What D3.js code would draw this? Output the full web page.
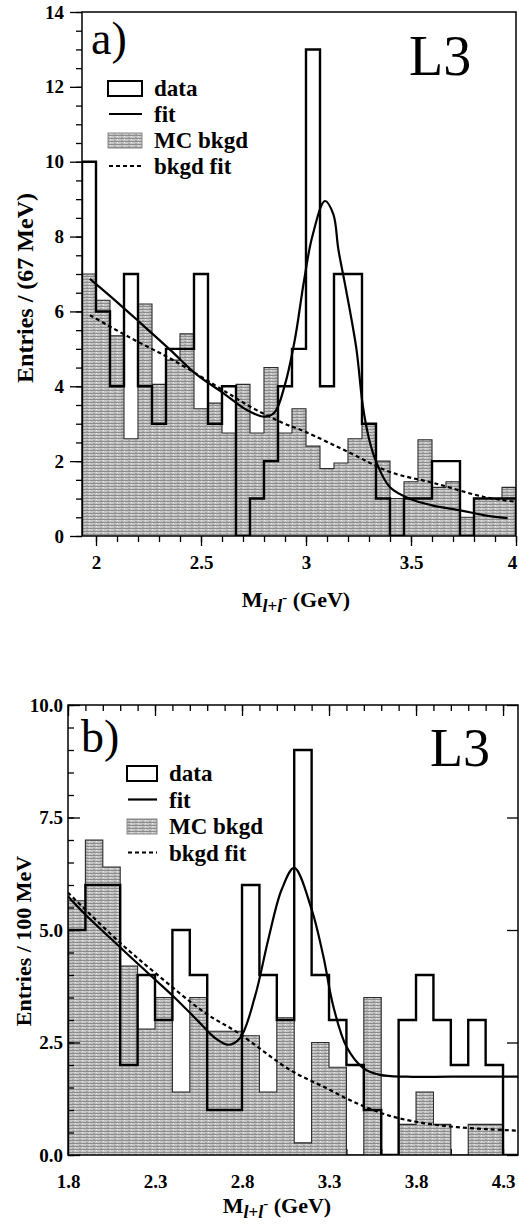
<!DOCTYPE html>
<html lang="en">
<head>
<meta charset="UTF-8">
<title>L3 dilepton mass</title>
<script src="https://d3js.org/d3.v7.min.js"></script>
<style>
  body { margin: 0; background: #fff; }
  svg { display: block; font-family: "Liberation Serif", "Times New Roman", serif; }
  .tick text { font-weight: bold; font-size: 19px; font-family: "Liberation Serif", serif; }
</style>
</head>
<body>
<svg width="519" height="1224"></svg>
<script>
// ---- panel a) : 67 MeV bins from 1.933 GeV
var aLow = 1.9333, aWidth = 1 / 15;
var aData = [10, 6, 4, 7, 4, 3, 5, 5, 7, 3, 4, 0, 1, 2, 4, 5, 13, 4, 7, 7, 3, 1, 0, 1, 1, 2, 2, 0, 1, 1, 1];
var aMC = [7.0, 6.3, 5.35, 2.6, 6.2, 4.05, 4.7, 5.4, 3.4, 3.55, 2.75, 4.05, 2.75, 4.5, 2.75, 3.4,
           2.4, 1.8, 1.95, 2.6, 3.0, 2.0, 1.0, 1.45, 2.57, 1.3, 1.45, 0.5, 1.0, 1.0, 1.3];
var aFit = [[1.971, 6.87], [2.1, 6.25], [2.21, 5.7], [2.352, 4.98], [2.48, 4.31], [2.606, 3.82],
            [2.717, 3.37], [2.80, 3.19], [2.85, 3.3], [2.90, 4.05], [2.947, 5.25], [2.99, 6.8],
            [3.03, 8.0], [3.09, 8.95], [3.13, 8.6], [3.154, 7.66], [3.19, 6.6], [3.24, 5.0],
            [3.27, 3.5], [3.30, 2.6], [3.333, 2.0], [3.40, 1.3], [3.5, 0.98], [3.6, 0.82],
            [3.74, 0.68], [3.844, 0.56], [3.96, 0.48]];
var aBkgFit = [[1.971, 5.9], [2.162, 5.3], [2.367, 4.7], [2.624, 3.83], [2.733, 3.46], [2.89, 3.02],
               [2.995, 2.79], [3.21, 2.22], [3.40, 1.71], [3.605, 1.42], [3.843, 1.05], [3.99, 0.92]];
var aXTicks = [2, 2.5, 3, 3.5, 4];
var aYTicks = [0, 2, 4, 6, 8, 10, 12, 14];

// ---- panel b) : 100 MeV bins from 1.8 GeV
var bLow = 1.8, bWidth = 0.1;
var bData = [5, 6, 6, 2, 4, 3, 5, 4, 1, 1, 6, 4, 3, 9, 4, 3, 2, 1, 0, 3, 4, 3, 2, 3, 2, 0];
var bMC = [5.65, 7.0, 6.4, 4.2, 2.8, 3.5, 1.4, 3.5, 2.75, 2.75, 2.65, 1.4, 3.05, 0.27, 2.5, 1.95,
           0, 3.5, 0, 0.68, 1.4, 0.68, 0, 0.68, 0.68, 0];
var bFit = [[1.80, 5.75], [1.898, 5.35], [2.09, 4.65], [2.3, 3.9], [2.415, 3.49], [2.549, 2.97],
            [2.645, 2.6], [2.721, 2.45], [2.789, 2.6], [2.875, 3.53], [2.951, 4.79], [3.028, 5.9],
            [3.10, 6.38], [3.20, 5.46], [3.267, 4.42], [3.325, 3.3], [3.40, 2.41], [3.497, 1.93],
            [3.593, 1.78], [3.746, 1.74], [4.0, 1.74], [4.39, 1.74]];
var bBkgFit = [[1.80, 5.83], [2.09, 4.75], [2.3, 4.05], [2.587, 3.16], [2.779, 2.71], [3.076, 1.89],
               [3.267, 1.52], [3.459, 1.15], [3.65, 0.87], [3.842, 0.71], [4.034, 0.62], [4.225, 0.57],
               [4.39, 0.54]];
var bXTicks = [1.8, 2.3, 2.8, 3.3, 3.8, 4.3];
var bYTicks = [0, 2.5, 5, 7.5, 10];

var legendKeys = ["data", "fit", "MC bkgd", "bkgd fit"];

var svg = d3.select("svg");
var defs = svg.append("defs");

// grainy grey fill for the MC histogram
var pat = defs.append("pattern").attr("id", "mcTex")
    .attr("patternUnits", "userSpaceOnUse").attr("width", 7).attr("height", 3);
pat.append("rect").attr("width", 7).attr("height", 3).attr("fill", "#c6c6c6");
pat.append("rect").attr("width", 7).attr("height", 1).attr("fill", "#8c8c8c");
pat.append("rect").attr("x", 2).attr("y", 2).attr("width", 2).attr("height", 1).attr("fill", "#a4a4a4");
pat.append("rect").attr("x", 5).attr("y", 1).attr("width", 1).attr("height", 1).attr("fill", "#ececec");

function drawPanel(p) {
    var x = d3.scaleLinear().domain(p.xDomain).range([p.left, p.right]);
    var y = d3.scaleLinear().domain(p.yDomain).range([p.bottom, p.top]);
    var g = svg.append("g");

    defs.append("clipPath").attr("id", p.id + "clip")
      .append("rect")
        .attr("x", p.left).attr("y", p.top)
        .attr("width", p.right - p.left).attr("height", p.bottom - p.top);

    var n = p.data.length;
    var edges = d3.range(n + 1).map(function(i) { return p.low + i * p.width; });

    function steps(vals) {
        var pts = [[edges[0], 0]];
        vals.forEach(function(v, i) { pts.push([edges[i], v]); });
        pts.push([edges[n], vals[n - 1]]);
        pts.push([edges[n], 0]);
        return pts;
    }

    // inward ticks on the bottom edge lie under the fill
    if (p.inward) {
        g.append("g").attr("transform", "translate(0," + p.bottom + ")")
            .call(d3.axisTop(x).tickValues(d3.range(p.xDomain[0], p.xDomain[1], 0.1)).tickSize(6).tickFormat(""))
            .call(function(s) { s.select(".domain").remove(); });
    }

    var plot = g.append("g").attr("clip-path", "url(#" + p.id + "clip)");

    var area = d3.area()
        .x(function(d) { return x(d[0]); })
        .y0(y(0))
        .y1(function(d) { return y(d[1]); })
        .curve(d3.curveStepAfter);
    var step = d3.line()
        .x(function(d) { return x(d[0]); })
        .y(function(d) { return y(d[1]); })
        .curve(d3.curveStepAfter);
    var smooth = d3.line()
        .x(function(d) { return x(d[0]); })
        .y(function(d) { return y(d[1]); })
        .curve(d3.curveCatmullRom.alpha(0.5));

    plot.append("path").attr("d", area(steps(p.mc))).attr("fill", "url(#mcTex)");
    plot.append("path").attr("d", step(steps(p.mc)))
        .attr("fill", "none").attr("stroke", "#2a2a2a").attr("stroke-width", 1.1);
    plot.append("path").attr("d", step(steps(p.data)))
        .attr("fill", "none").attr("stroke", "#000").attr("stroke-width", 2.4);
    plot.append("path").attr("d", smooth(p.bkg))
        .attr("fill", "none").attr("stroke", "#000").attr("stroke-width", 2.2)
        .attr("stroke-dasharray", "4,3");
    plot.append("path").attr("d", smooth(p.fit))
        .attr("fill", "none").attr("stroke", "#000").attr("stroke-width", 2.2);

    // frame
    g.append("rect")
        .attr("x", p.left).attr("y", p.top)
        .attr("width", p.right - p.left).attr("height", p.bottom - p.top)
        .attr("fill", "none").attr("stroke", "#000").attr("stroke-width", 1.5);

    var yMinor = d3.range(p.yDomain[0], p.yDomain[1] + 0.001, 0.5);
    var xMinor = d3.range(Math.ceil(p.xDomain[0] * 10) / 10, p.xDomain[1] + 0.001, 0.1);
    var sgn = p.inward ? -1 : 1;

    g.append("g").attr("transform", "translate(" + p.left + ",0)")
        .call(d3.axisLeft(y).tickValues(yMinor).tickSize(sgn * 6).tickFormat(""))
        .call(function(s) { s.select(".domain").remove(); });
    g.append("g").attr("transform", "translate(" + p.left + ",0)")
        .call(d3.axisLeft(y).tickValues(p.yTicks).tickSize(sgn * 12).tickPadding(p.inward ? 5 : 6)
            .tickFormat(p.yFormat))
        .call(function(s) { s.select(".domain").remove(); });

    var xAxisPos = p.inward ? p.top : p.bottom;
    g.append("g").attr("transform", "translate(0," + xAxisPos + ")")
        .call(d3.axisBottom(x).tickValues(xMinor).tickSize(6).tickFormat(""))
        .call(function(s) { s.select(".domain").remove(); });
    g.append("g").attr("transform", "translate(0," + xAxisPos + ")")
        .call(d3.axisBottom(x).tickValues(p.xTicks).tickSize(p.inward ? 11 : 10).tickFormat(""))
        .call(function(s) { s.select(".domain").remove(); });
    // x tick labels below the bottom edge
    var xl = g.append("g").attr("transform", "translate(0," + p.bottom + ")")
        .call(d3.axisBottom(x).tickValues(p.xTicks).tickSize(0).tickPadding(p.xPad).tickFormat(p.xFormat))
        .call(function(s) { s.select(".domain").remove(); });
    // keep the last label inside the page
    xl.selectAll(".tick text").filter(function(d) { return x(d) > 510; }).attr("dx", -4);

    if (p.inward) {
        g.append("g").attr("transform", "translate(" + p.right + ",0)")
            .call(d3.axisLeft(y).tickValues(p.yTicks).tickSize(11).tickFormat(""))
            .call(function(s) { s.select(".domain").remove(); });
    }
    g.selectAll(".tick line").attr("stroke", "#000").attr("stroke-width", 1.3);

    // panel letter and experiment name
    g.append("text").attr("x", p.letterX).attr("y", p.letterY)
        .attr("font-size", p.letterSize).text(p.letter);
    g.append("text").attr("x", p.l3X).attr("y", p.l3Y)
        .attr("font-size", p.l3Size).text("L3");

    // y title
    g.append("text")
        .attr("transform", "translate(" + p.yTitleX + "," + p.yTitleY + ") rotate(-90)")
        .attr("text-anchor", "middle").attr("font-weight", "bold")
        .attr("font-size", p.yTitleSize).text(p.yTitle);

    // x title  M_{l+l-} (GeV)
    var xt = g.append("text").attr("x", p.xTitleX).attr("y", p.xTitleY)
        .attr("text-anchor", "middle").attr("font-weight", "bold").attr("font-size", 22);
    xt.append("tspan").text("M");
    xt.append("tspan").attr("dy", 5).attr("font-size", 18).attr("font-style", "italic").text("l");
    xt.append("tspan").attr("font-size", 17).text("+");
    xt.append("tspan").attr("font-size", 18).attr("font-style", "italic").text("l");
    xt.append("tspan").attr("dy", -10).attr("font-size", 15).text("-");
    xt.append("tspan").attr("dy", 5).text(" (GeV)");

    // legend
    var lg = g.append("g").attr("font-weight", "bold").attr("font-size", 23);
    legendKeys.forEach(function(k, i) {
        var cy = p.legY + i * p.legStep;
        if (i === 0 || i === 2) {
            lg.append("rect").attr("x", p.legX).attr("y", cy - 7)
                .attr("width", p.legW).attr("height", 15)
                .attr("fill", i === 0 ? "#fff" : "url(#mcTex)")
                .attr("stroke", i === 0 ? "#000" : "#888").attr("stroke-width", i === 0 ? 2 : 1);
        } else {
            lg.append("line").attr("x1", p.legX + 1).attr("x2", p.legX + p.legW)
                .attr("y1", cy).attr("y2", cy)
                .attr("stroke", "#000").attr("stroke-width", 2.2)
                .attr("stroke-dasharray", i === 3 ? "4,3" : null);
        }
        lg.append("text").attr("x", p.legX + p.legW + 12).attr("y", cy + 8)
            .attr("textLength", null).text(k);
    });
}

drawPanel({
    id: "a", data: aData, mc: aMC, fit: aFit, bkg: aBkgFit, low: aLow, width: aWidth,
    xDomain: [aLow, 4.0], yDomain: [0, 14], left: 82, right: 516, top: 12, bottom: 536,
    xTicks: aXTicks, yTicks: aYTicks, xFormat: d3.format(""), yFormat: d3.format("d"),
    inward: false, xPad: 20,
    letter: "a)", letterX: 91, letterY: 54, letterSize: 46,
    l3X: 409, l3Y: 75, l3Size: 56,
    yTitle: "Entries / (67 MeV)", yTitleX: 33, yTitleY: 288, yTitleSize: 24,
    xTitleX: 296, xTitleY: 607,
    legX: 108, legY: 88, legStep: 26, legW: 34
});

drawPanel({
    id: "b", data: bData, mc: bMC, fit: bFit, bkg: bBkgFit, low: bLow, width: bWidth,
    xDomain: [1.8, 4.386], yDomain: [0, 10], left: 68, right: 518, top: 705, bottom: 1155,
    xTicks: bXTicks, yTicks: bYTicks, xFormat: d3.format(".1f"), yFormat: d3.format(".1f"),
    inward: true, xPad: 20,
    letter: "b)", letterX: 81, letterY: 752, letterSize: 46,
    l3X: 430, l3Y: 766, l3Size: 54,
    yTitle: "Entries / 100 MeV", yTitleX: 31, yTitleY: 941, yTitleSize: 22,
    xTitleX: 277, xTitleY: 1213,
    legX: 127, legY: 773, legStep: 26.5, legW: 30
});
</script>
</body>
</html>
